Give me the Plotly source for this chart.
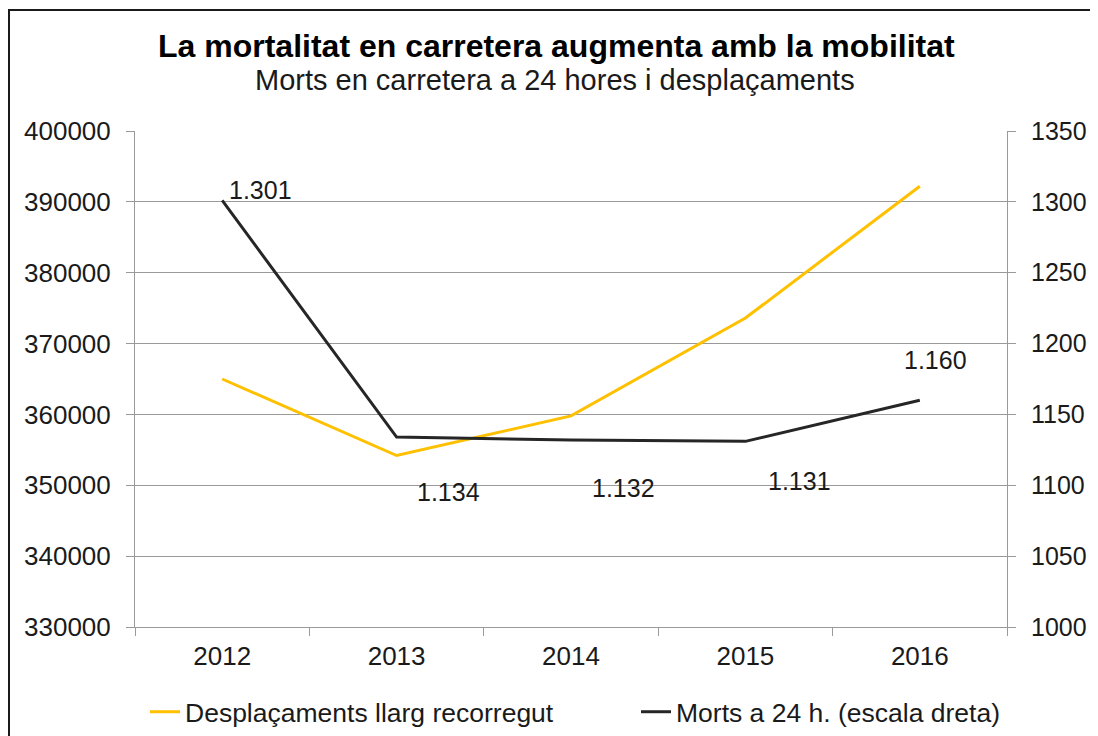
import plotly.graph_objects as go

years = ["2012", "2013", "2014", "2015", "2016"]
desplacaments = [365000, 354200, 359800, 373600, 392200]
morts = [1301, 1134, 1132, 1131, 1160]
left_ticks = [330000, 340000, 350000, 360000, 370000, 380000, 390000, 400000]
right_ticks = [1000, 1050, 1100, 1150, 1200, 1250, 1300, 1350]
label_shift_x = [38, 52, 52, 54, 16]
label_shift_y = [10, -55, -48, -40, 40]

title = "La mortalitat en carretera augmenta amb la mobilitat"
subtitle = "Morts en carretera a 24 hores i desplaçaments"

FONT = "Liberation Sans, Arial, sans-serif"
TXT = "#1a1a1a"
GRID = "#9a9a9a"

OFF = 8  # page body margin
W, H = 1098, 736
# plot area in page coordinates
PL, PR, PT, PB = 135, 1007, 131, 627
L = PL - OFF
T = PT - OFF
R = W - (PR - OFF)
B = H - (PB - OFF)
pw, ph = W - L - R, H - T - B

def px(x):
    return (x - OFF - L) / pw

def py(y):
    return (H - B - (y - OFF)) / ph

fig = go.Figure()
fig.add_trace(go.Scatter(
    x=years, y=desplacaments, name="Desplaçaments llarg recorregut",
    mode="lines", line=dict(color="#FFC000", width=3), yaxis="y", legend="legend"))
fig.add_trace(go.Scatter(
    x=years, y=morts, name="Morts a 24 h. (escala dreta)",
    mode="lines", line=dict(color="#262626", width=3), yaxis="y2", legend="legend2"))

annotations = []
for i, (v, dx, dy) in enumerate(zip(morts, label_shift_x, label_shift_y)):
    annotations.append(dict(
        x=i, y=v, xref="x", yref="y2", text=f"{v/1000:.3f}",
        showarrow=False, xshift=dx, yshift=dy,
        font=dict(family=FONT, size=25, color=TXT)))

annotations.append(dict(
    x=px(556), y=py(46), xref="paper", yref="paper", text=f"<b>{title}</b>",
    showarrow=False, xanchor="center", yanchor="middle",
    font=dict(family=FONT, size=32, color="#000000")))
annotations.append(dict(
    x=px(555), y=py(80), xref="paper", yref="paper", text=subtitle,
    showarrow=False, xanchor="center", yanchor="middle",
    font=dict(family=FONT, size=29, color=TXT)))

legend_common = dict(orientation="h", xanchor="left", yanchor="middle",
                     font=dict(family=FONT, size=26.5, color=TXT),
                     bgcolor="rgba(0,0,0,0)")

fig.update_layout(
    width=W, height=H,
    margin=dict(l=L, r=R, t=T, b=B, autoexpand=False),
    paper_bgcolor="white", plot_bgcolor="white",
    font=dict(family=FONT, size=26, color=TXT),
    showlegend=True,
    legend=dict(x=px(145), y=py(712), **legend_common),
    legend2=dict(x=px(636), y=py(712), **legend_common),
    xaxis=dict(type="category", range=[-0.5, 4.5], showgrid=False,
               showline=True, linecolor=GRID, linewidth=1,
               ticks="outside", tickson="boundaries", ticklen=8, tickcolor=GRID,
               ticklabelstandoff=6,
               tickfont=dict(size=26, color=TXT), fixedrange=True),
    yaxis=dict(range=[330000, 400000], tickvals=left_ticks,
               ticktext=[str(v) for v in left_ticks],
               showgrid=True, gridcolor=GRID, gridwidth=1,
               showline=True, linecolor=GRID, linewidth=1,
               ticks="outside", ticklen=8, tickcolor=GRID, zeroline=False,
               ticklabelstandoff=10,
               tickfont=dict(size=26, color=TXT)),
    yaxis2=dict(range=[1000, 1350], tickvals=right_ticks, overlaying="y", side="right",
                showgrid=False, showline=True, linecolor=GRID, linewidth=1,
                ticks="outside", ticklen=8, tickcolor=GRID, zeroline=False,
                ticklabelstandoff=10,
                tickfont=dict(size=25, color=TXT)),
    annotations=annotations,
    shapes=[dict(type="rect", xref="paper", yref="paper",
                 x0=px(9), x1=px(1120), y0=py(760), y1=py(10),
                 line=dict(color="#1a1a1a", width=2), fillcolor="rgba(0,0,0,0)", layer="above")],
)

fig.write_html("out.html")
